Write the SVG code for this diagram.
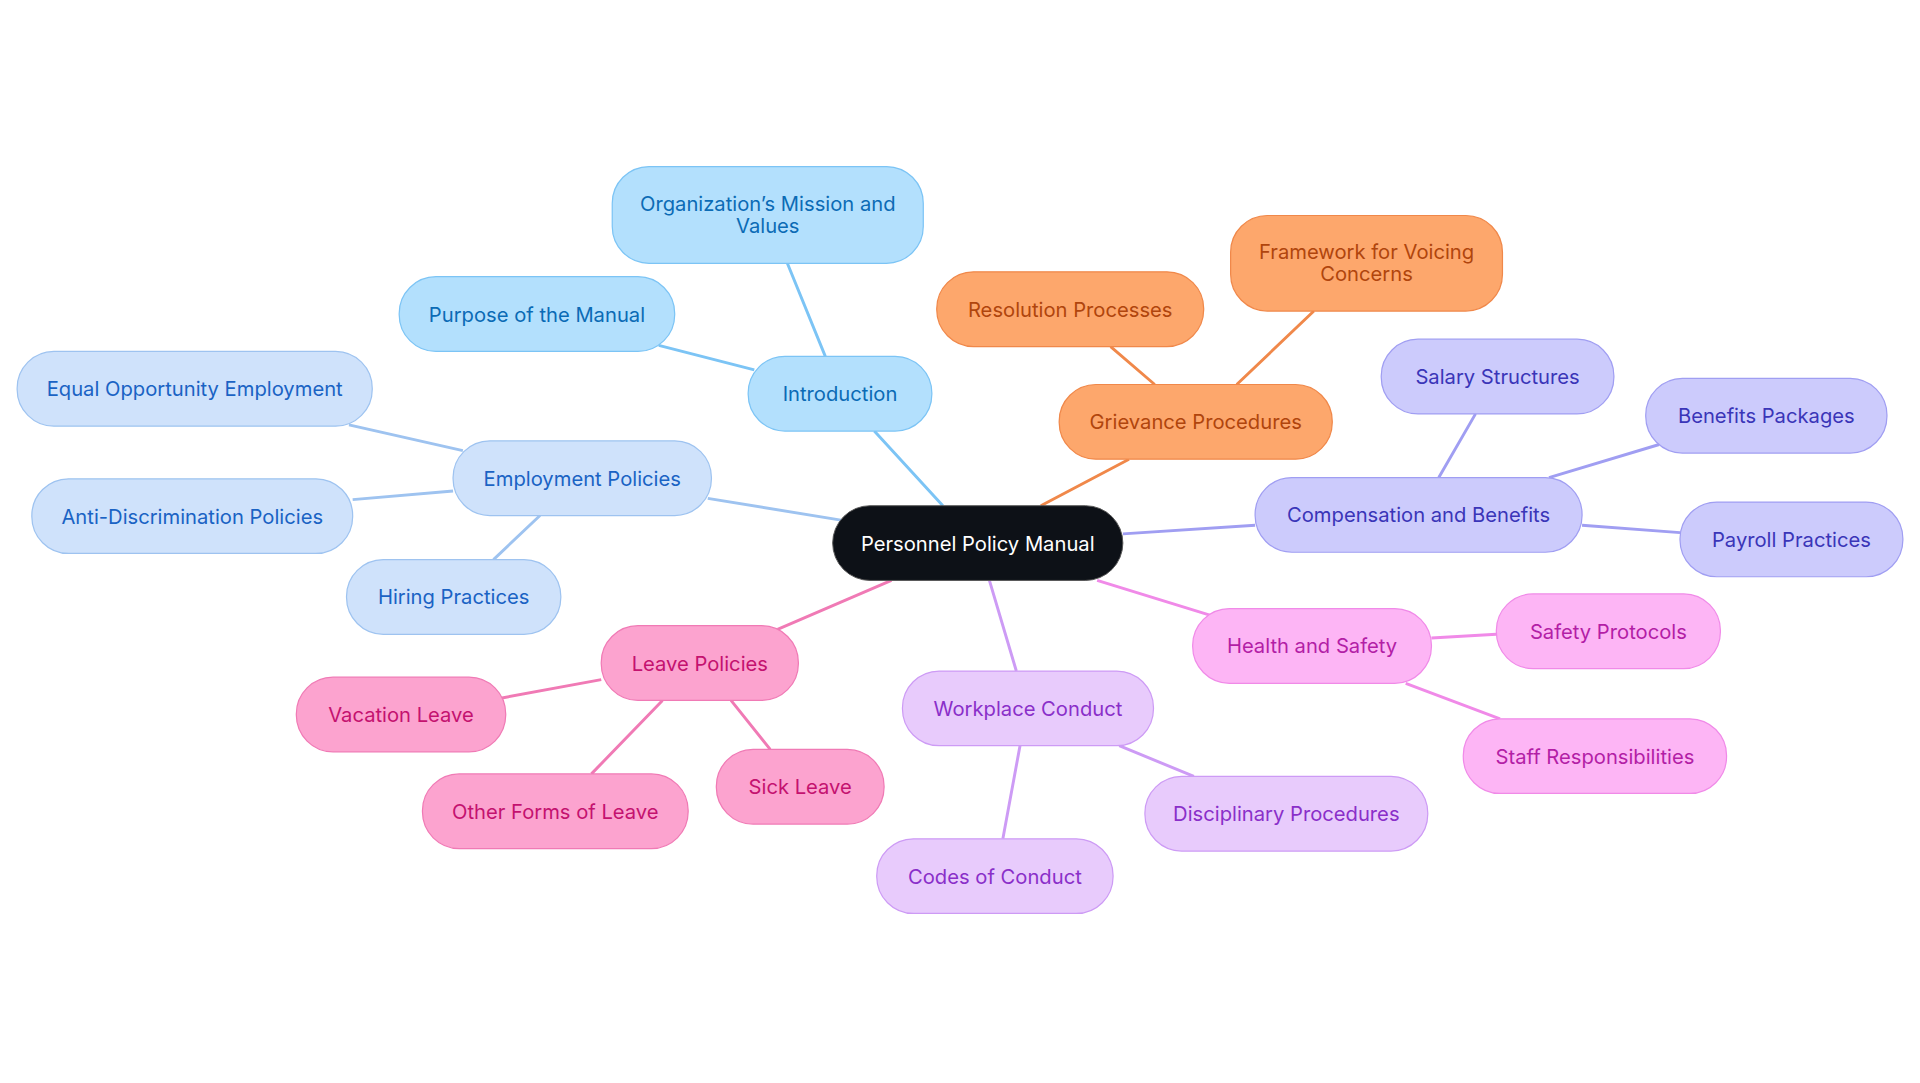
<svg xmlns="http://www.w3.org/2000/svg" width="1920" height="1083" viewBox="0 0 1920 1083">
<style>
text{font-family:Inter,"Noto Sans",sans-serif;font-size:16.5px;text-anchor:middle;dominant-baseline:central}
.e{fill:none;stroke-width:2.4}
.b rect{fill:#b3e0fd;stroke:#7cc4f5}.b text{fill:#0b6bb5}
.l rect{fill:#cfe2fb;stroke:#9ec3f0}.l text{fill:#1a63c4}
.o rect{fill:#fda76c;stroke:#f0884a}.o text{fill:#b0450d}
.v rect{fill:#cccbfc;stroke:#a09ef2}.v text{fill:#3a35b8}
.m rect{fill:#fdb5f5;stroke:#f08ae8}.m text{fill:#b31ea6}
.p rect{fill:#e8cbfc;stroke:#cd9bf5}.p text{fill:#8a2fc9}
.k rect{fill:#fca3cf;stroke:#f07ab5}.k text{fill:#c4126f}
</style>
<rect width="1920" height="1083" fill="#fff"/>
<g transform="scale(1.2245)">
<g id="connectors">
<path class="e" stroke="#7cc4f5" d="M770,413L714,352M674,291L643,215M616,302L538,282"/>
<path class="e" stroke="#9ec3f0" d="M688,425L578,407M378,368L285,347M370,401L288,408M441,421L403,457"/>
<path class="e" stroke="#f0884a" d="M850,413L922,375M943,314L907,283M1010,314L1073,254"/>
<path class="e" stroke="#a09ef2" d="M917,436L1025,429M1175,390L1205,338M1265,390L1355,363M1292,429L1372,435"/>
<path class="e" stroke="#f08ae8" d="M896,474L990,503M1169,521L1222,518M1148,558L1225,587"/>
<path class="e" stroke="#cd9bf5" d="M808,474L830,548M914,609L975,634M833,609L819,685"/>
<path class="e" stroke="#f07ab5" d="M728,474L635,514M491,555L410,570M541,572L483,632M597,572L629,612"/>
</g>
<g id="root"><rect x="680" y="413" width="237" height="61" rx="30.5" fill="#0d1117" stroke="#555" stroke-width="0.8"/><text x="798.5" y="443.5" fill="#fff">Personnel Policy Manual</text></g>
<g id="intro" class="b"><rect x="611" y="291" width="150" height="61" rx="30"/><text x="686" y="321.5">Introduction</text></g>
<g id="mission" class="b"><rect x="500" y="136" width="254" height="79" rx="30"/><text x="627" y="166">Organization’s Mission and</text><text x="627" y="184">Values</text></g>
<g id="purpose" class="b"><rect x="326" y="226" width="225" height="61" rx="30"/><text x="438.5" y="256.5">Purpose of the Manual</text></g>
<g id="employment" class="l"><rect x="370" y="360" width="211" height="61" rx="30"/><text x="475.5" y="390.5">Employment Policies</text></g>
<g id="equal" class="l"><rect x="14" y="287" width="290" height="61" rx="30"/><text x="159" y="317.5">Equal Opportunity Employment</text></g>
<g id="antidisc" class="l"><rect x="26" y="391" width="262" height="61" rx="30"/><text x="157" y="421.5">Anti-Discrimination Policies</text></g>
<g id="hiring" class="l"><rect x="283" y="457" width="175" height="61" rx="30"/><text x="370.5" y="487.5">Hiring Practices</text></g>
<g id="grievance" class="o"><rect x="865" y="314" width="223" height="61" rx="30"/><text x="976.5" y="344.5">Grievance Procedures</text></g>
<g id="resolution" class="o"><rect x="765" y="222" width="218" height="61" rx="30"/><text x="874" y="252.5">Resolution Processes</text></g>
<g id="framework" class="o"><rect x="1005" y="176" width="222" height="78" rx="30"/><text x="1116" y="205">Framework for Voicing</text><text x="1116" y="223">Concerns</text></g>
<g id="comp" class="v"><rect x="1025" y="390" width="267" height="61" rx="30"/><text x="1158.5" y="420.5">Compensation and Benefits</text></g>
<g id="salary" class="v"><rect x="1128" y="277" width="190" height="61" rx="30"/><text x="1223" y="307.5">Salary Structures</text></g>
<g id="benefits" class="v"><rect x="1344" y="309" width="197" height="61" rx="30"/><text x="1442.5" y="339.5">Benefits Packages</text></g>
<g id="payroll" class="v"><rect x="1372" y="410" width="182" height="61" rx="30"/><text x="1463" y="440.5">Payroll Practices</text></g>
<g id="health" class="m"><rect x="974" y="497" width="195" height="61" rx="30"/><text x="1071.5" y="527.5">Health and Safety</text></g>
<g id="safety" class="m"><rect x="1222" y="485" width="183" height="61" rx="30"/><text x="1313.5" y="515.5">Safety Protocols</text></g>
<g id="staff" class="m"><rect x="1195" y="587" width="215" height="61" rx="30"/><text x="1302.5" y="617.5">Staff Responsibilities</text></g>
<g id="workplace" class="p"><rect x="737" y="548" width="205" height="61" rx="30"/><text x="839.5" y="578.5">Workplace Conduct</text></g>
<g id="disciplinary" class="p"><rect x="935" y="634" width="231" height="61" rx="30"/><text x="1050.5" y="664.5">Disciplinary Procedures</text></g>
<g id="codes" class="p"><rect x="716" y="685" width="193" height="61" rx="30"/><text x="812.5" y="715.5">Codes of Conduct</text></g>
<g id="leave" class="k"><rect x="491" y="511" width="161" height="61" rx="30"/><text x="571.5" y="541.5">Leave Policies</text></g>
<g id="vacation" class="k"><rect x="242" y="553" width="171" height="61" rx="30"/><text x="327.5" y="583.5">Vacation Leave</text></g>
<g id="other" class="k"><rect x="345" y="632" width="217" height="61" rx="30"/><text x="453.5" y="662.5">Other Forms of Leave</text></g>
<g id="sick" class="k"><rect x="585" y="612" width="137" height="61" rx="30"/><text x="653.5" y="642.5">Sick Leave</text></g>
</g>
</svg>
